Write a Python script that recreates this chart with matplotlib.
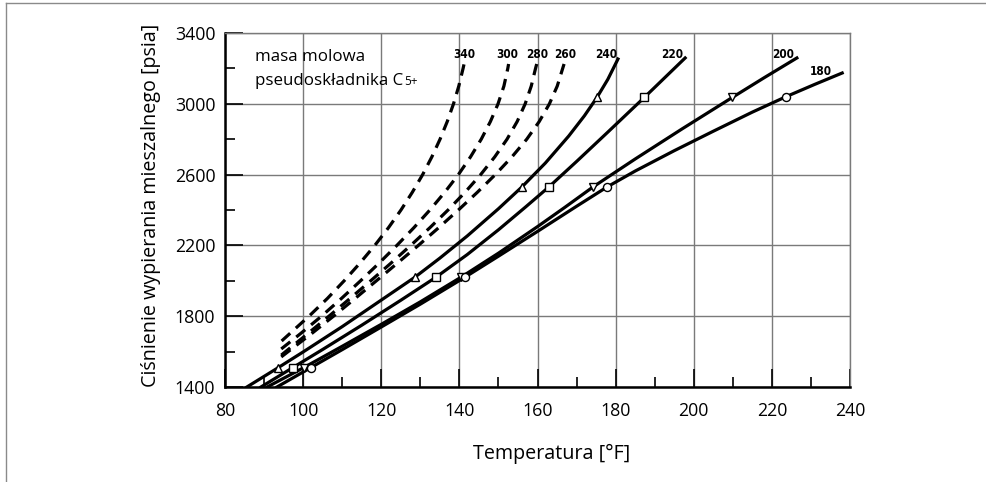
import matplotlib
matplotlib.use("Agg")
import matplotlib.pyplot as plt
from matplotlib.lines import Line2D
from matplotlib.ticker import FixedLocator, MultipleLocator

plt.rcParams['font.family'] = ['Open Sans', 'DejaVu Sans']
plt.rcParams['mathtext.default'] = 'regular'

# ---- data (temperature [F], pressure [psia]) ----
# solid curves: C5+ molecular weight 240, 220, 200, 180
t_240 = [85.6, 93.6, 100, 110, 120, 128.6, 135, 142, 150, 156, 162, 168, 172, 175.2, 178, 180.6]
p_240 = [1400, 1509, 1598, 1741, 1891, 2020, 2128, 2253, 2407, 2530, 2665, 2818, 2932, 3035, 3138, 3253]
t_220 = [89.2, 97.4, 105, 115, 125, 134, 142, 150, 157, 162.9, 170, 178, 187.3, 197.8]
p_220 = [1400, 1510, 1612, 1749, 1890, 2020, 2148, 2288, 2418, 2530, 2674, 2840, 3035, 3259]
t_200 = [90.8, 100.2, 110, 120, 130, 140.4, 150, 160, 167, 174.2, 185, 197, 209.8, 218, 226.4]
p_200 = [1400, 1510, 1630, 1754, 1881, 2020, 2156, 2306, 2415, 2530, 2688, 2858, 3035, 3147, 3259]
t_180 = [93.3, 102, 110, 120, 130, 141.4, 150, 160, 170, 177.8, 185, 195, 205, 215, 223.6, 231, 238]
p_180 = [1400, 1510, 1611, 1739, 1868, 2020, 2139, 2279, 2421, 2530, 2620, 2735, 2845, 2953, 3040, 3110, 3174]

# dashed curves: C5+ molecular weight 340, 300, 280, 260
p_340 = [1660, 1700, 1800, 1900, 2000, 2100, 2200, 2300, 2400, 2500, 2600, 2700, 2800, 2900, 3000, 3100, 3200, 3225]
t_340 = [94.5, 96.5, 101.5, 106.2, 110.5, 114.55, 118.35, 121.85, 125.05, 127.95, 130.6, 132.95, 135.05, 136.9, 138.5, 139.85, 140.95, 141.2]
p_300 = [1615, 1700, 1800, 1900, 2000, 2100, 2200, 2300, 2400, 2500, 2600, 2700, 2800, 2900, 3000, 3100, 3200, 3225]
t_300 = [94.4, 99.25, 104.7, 109.8, 114.7, 119.45, 124.0, 128.35, 132.45, 136.25, 139.75, 142.85, 145.6, 147.95, 149.9, 151.4, 152.4, 152.6]
p_280 = [1580, 1700, 1800, 1900, 2000, 2100, 2200, 2300, 2400, 2500, 2600, 2700, 2800, 2900, 3000, 3100, 3200, 3225]
t_280 = [94.4, 101.1, 106.6, 112.0, 117.3, 122.5, 127.55, 132.45, 137.1, 141.45, 145.45, 149.05, 152.2, 154.8, 156.85, 158.4, 159.5, 159.8]
p_260 = [1570, 1700, 1800, 1900, 2000, 2100, 2200, 2300, 2400, 2500, 2600, 2700, 2800, 2900, 3000, 3100, 3200, 3225]
t_260 = [94.4, 102.07, 107.77, 113.3, 118.75, 124.15, 129.5, 134.7, 139.75, 144.6, 149.2, 153.45, 157.25, 160.45, 163.05, 165.05, 166.45, 166.8]

# marker points on solid curves
mk_p = [1510, 2020, 2530, 3037]
mk_t_240 = [93.6, 128.6, 156.0, 175.2]
mk_t_220 = [97.4, 134.0, 162.9, 187.3]
mk_t_200 = [100.2, 140.4, 174.2, 209.8]
mk_t_180 = [102.0, 141.4, 177.8, 223.6]

# curve label anchors
lab_names = ["340", "300", "280", "260", "240", "220", "200", "180"]
lab_t = [141.2, 152.2, 159.9, 167.0, 177.5, 194.4, 222.9, 232.6]
lab_p = [3276, 3276, 3276, 3276, 3276, 3276, 3276, 3185]

y_major = [1400, 1800, 2200, 2600, 3000, 3400]
y_minor = [1600, 2000, 2400, 2800, 3200]

fig = plt.figure(figsize=(9.87, 4.82), dpi=100)
ax = fig.add_axes([225/987, 1-387/482, 625/987, 354/482])

ax.set_xlim(80, 240)
ax.set_ylim(1400, 3400)
ax.xaxis.set_major_locator(MultipleLocator(20))
ax.xaxis.set_minor_locator(MultipleLocator(10))
ax.yaxis.set_major_locator(FixedLocator(y_major))
ax.yaxis.set_minor_locator(FixedLocator(y_minor))
ax.grid(True, which='major', color='#7a7a7a', lw=1.0, zorder=0)
ax.set_axisbelow(True)
ax.tick_params(which='major', direction='in', length=13, width=1.2, color='black',
               labelsize=12.8)
ax.tick_params(which='minor', direction='in', length=7, width=1.2, color='black')
ax.tick_params(axis='x', which='major', pad=11)
ax.tick_params(axis='y', which='major', pad=7)
for s in ['left', 'bottom']:
    ax.spines[s].set_linewidth(1.8)
    ax.spines[s].set_color('black')
for s in ['top', 'right']:
    ax.spines[s].set_linewidth(1.0)
    ax.spines[s].set_color('#7a7a7a')

lw = 2.3
dash = (3.6, 2.4)
ax.plot(t_340, p_340, color='black', lw=lw, dashes=dash, zorder=3)
ax.plot(t_300, p_300, color='black', lw=lw, dashes=dash, zorder=3)
ax.plot(t_280, p_280, color='black', lw=lw, dashes=dash, zorder=3)
ax.plot(t_260, p_260, color='black', lw=lw, dashes=dash, zorder=3)

ax.plot(t_240, p_240, color='black', lw=lw, zorder=3)
ax.plot(t_220, p_220, color='black', lw=lw, zorder=3)
ax.plot(t_200, p_200, color='black', lw=lw, zorder=3)
ax.plot(t_180, p_180, color='black', lw=lw, zorder=3)

mkw = dict(ls='none', mfc='white', mec='black', mew=1.0, ms=5.8, zorder=4)
ax.plot(mk_t_240, mk_p, marker='^', **mkw)
ax.plot(mk_t_220, mk_p, marker='s', **mkw)
ax.plot(mk_t_200, mk_p, marker='v', **mkw)
ax.plot(mk_t_180, mk_p, marker='o', **mkw)

for name, t, p in zip(lab_names, lab_t, lab_p):
    ax.text(t, p, name, ha='center', va='center', fontsize=8.5, fontweight='bold',
            family=['DejaVu Sans'], fontstretch='condensed', zorder=5)

ax.text(87.7, 3265, "masa molowa", fontsize=12.2, va='center', ha='left', zorder=5)
t2 = ax.text(87.7, 3129, "pseudoskładnika C", fontsize=12.2, va='center', ha='left', zorder=5)
ax.annotate("5+", xy=(1, 0), xycoords=t2, xytext=(0.5, 0.5), textcoords='offset points',
            fontsize=8.5, ha='left', va='bottom', zorder=5)

ax.set_xlabel("Temperatura [°F]", fontsize=14.2)
ax.set_ylabel("Ciśnienie wypierania mieszalnego [psia]", fontsize=14.2)
ax.xaxis.set_label_coords((552-225)/625, (387-444)/354)
ax.yaxis.set_label_coords((161-225)/625, 0.514)

# figure frame (left and top edges)
fig.add_artist(Line2D([6/987, 6/987], [0, 1-3/482], color='#8a8a8a', lw=1.0,
                      transform=fig.transFigure))
fig.add_artist(Line2D([6/987, 985/987], [1-3/482, 1-3/482], color='#8a8a8a', lw=1.0,
                      transform=fig.transFigure))

fig.savefig("out.png", dpi=100)
